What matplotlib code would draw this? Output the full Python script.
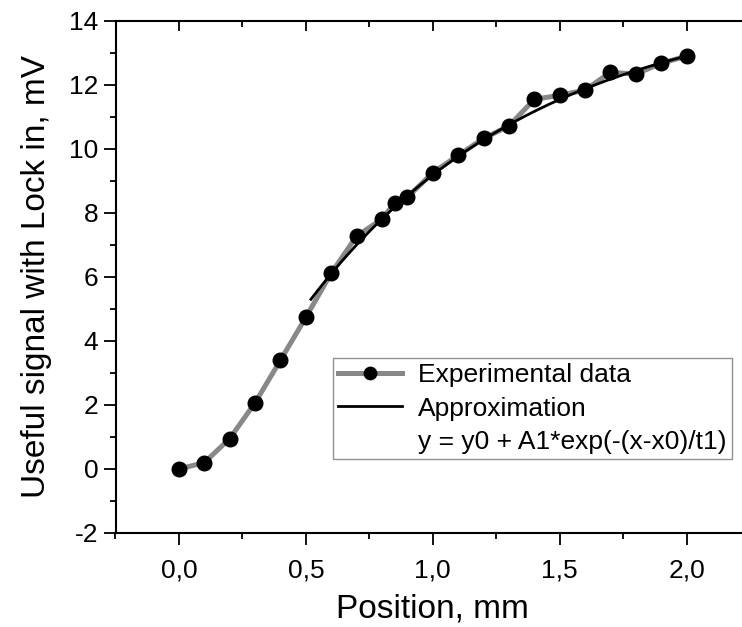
import numpy as np
import matplotlib
matplotlib.use("Agg")
import matplotlib.pyplot as plt
from matplotlib.ticker import MultipleLocator, FuncFormatter, NullFormatter

plt.rcParams['font.family'] = ['Liberation Sans', 'DejaVu Sans']

# Data
position_mm = [0.0, 0.1, 0.2, 0.3, 0.4, 0.5, 0.6, 0.7, 0.8, 0.85, 0.9, 1.0, 1.1,
               1.2, 1.3, 1.4, 1.5, 1.6, 1.7, 1.8, 1.9, 2.0]
signal_mV = [0.0, 0.2, 0.95, 2.07, 3.4, 4.74, 6.12, 7.28, 7.81, 8.32, 8.49, 9.26,
             9.8, 10.33, 10.72, 11.55, 11.68, 11.84, 12.4, 12.34, 12.68, 12.9]

# Fit parameters (y = y0 + A1*exp(-(x-x0)/t1))
fit_y0 = 14.75
fit_A1 = -16.77
fit_x0 = 0.0
fit_t1 = 0.906
fit_range = [0.52, 2.0]

legend_labels = ["Experimental data", "Approximation",
                 "y = y0 + A1*exp(-(x-x0)/t1)"]

W, H = 742, 627
fig = plt.figure(figsize=(W / 100, H / 100), dpi=100)
ax_left, ax_right, ax_top, ax_bottom = 115.5, 750, 21, 533
ax = fig.add_axes([ax_left / W, 1 - ax_bottom / H,
                   (ax_right - ax_left) / W, (ax_bottom - ax_top) / H])

ax.plot(position_mm, signal_mV, color='#888888', lw=3.6, marker='o',
        markersize=10.5, markerfacecolor='black', markeredgecolor='black',
        label=legend_labels[0], zorder=2)
xf = np.linspace(fit_range[0], fit_range[1], 200)
yf = fit_y0 + fit_A1 * np.exp(-(xf - fit_x0) / fit_t1)
ax.plot(xf, yf, color='black', lw=2.0, label=legend_labels[1], zorder=3)
ax.plot([], [], linestyle='none', label=legend_labels[2])

ax.set_xlim(-0.25, 2.25)
ax.set_ylim(-2, 14)
ax.xaxis.set_major_locator(MultipleLocator(0.5))
ax.xaxis.set_minor_locator(MultipleLocator(0.25))
ax.yaxis.set_major_locator(MultipleLocator(2))
ax.yaxis.set_minor_locator(MultipleLocator(1))
ax.xaxis.set_major_formatter(FuncFormatter(lambda v, p: f"{v:.1f}".replace('.', ',')))
ax.yaxis.set_major_formatter(FuncFormatter(lambda v, p: f"{v:.0f}"))

for s in ['left', 'bottom']:
    ax.spines[s].set_linewidth(1.5)
ax.spines['right'].set_visible(False)
ax.spines['top'].set_visible(False)

ax.tick_params(axis='both', which='major', direction='out', length=8.5, width=1.3,
               labelsize=19, colors='black')
ax.tick_params(axis='both', which='minor', direction='out', length=4.5, width=1.3)
ax.tick_params(axis='x', which='major', pad=10)
ax.tick_params(axis='y', which='major', pad=4)

# top axis with inward ticks
sec = ax.secondary_xaxis('top')
sec.xaxis.set_major_locator(MultipleLocator(0.5))
sec.xaxis.set_minor_locator(MultipleLocator(0.25))
sec.xaxis.set_major_formatter(NullFormatter())
sec.spines['top'].set_linewidth(1.5)
sec.tick_params(which='major', direction='in', length=7.5, width=1.3)
sec.tick_params(which='minor', direction='in', length=4, width=1.3)

ax.set_xlabel("Position, mm", fontsize=24, labelpad=8)
ax.set_ylabel("Useful signal with Lock in, mV", fontsize=24, labelpad=12)

leg = ax.legend(loc='upper left', bbox_to_anchor=(0.343, 0.342), fontsize=19,
                frameon=True, fancybox=False, borderpad=0.2, labelspacing=0.36,
                handlelength=2.4, handletextpad=0.62, borderaxespad=0,
                markerscale=0.85)
leg.get_frame().set_edgecolor('#777777')
leg.get_frame().set_linewidth(1.0)

fig.savefig("out.png", dpi=100)
